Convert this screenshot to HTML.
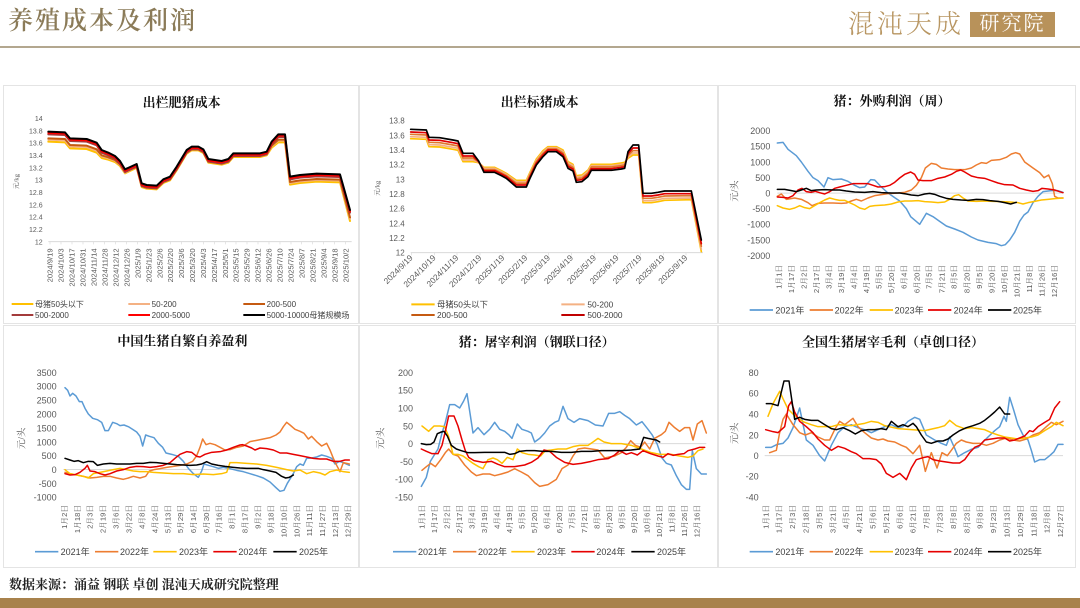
<!DOCTYPE html>
<html><head><meta charset="utf-8">
<style>
*{margin:0;padding:0;box-sizing:border-box}
body{width:1080px;height:608px;position:relative;overflow:hidden;background:#fff;font-family:"Liberation Sans","Noto Sans CJK SC",sans-serif}
.panel{position:absolute;border:1px solid #e4e4e4;background:#fff}
svg{position:absolute;overflow:visible}
svg text{font-family:"Liberation Sans","Noto Sans CJK SC",sans-serif;fill:#595959}
svg .t{font-family:"Liberation Serif","Noto Serif CJK SC",serif;font-weight:700;fill:#111;font-size:39px;text-anchor:middle}
svg .yl{text-anchor:end;font-size:27px}
svg .xl{text-anchor:end;font-size:23px;font-family:"Liberation Sans","Noto Serif CJK SC",serif}
svg .lg{font-size:27px;fill:#404040}
svg .yt{text-anchor:middle;font-size:28px;font-family:"Liberation Serif","Noto Serif CJK SC",serif}
polyline{fill:none;stroke-linejoin:round;stroke-linecap:round}
</style></head><body>

<!-- header -->
<div style="position:absolute;left:8px;top:5px;font-family:'Liberation Serif','Noto Serif CJK SC',serif;font-size:25px;line-height:34px;letter-spacing:2px;color:#8b7b58;font-weight:600">养殖成本及利润</div>
<div style="position:absolute;left:848px;top:9px;font-family:'Liberation Serif','Noto Serif CJK SC',serif;font-size:26px;line-height:32px;letter-spacing:3px;color:#b89662;font-weight:300">混沌天成</div>
<div style="position:absolute;left:970px;top:12px;width:85px;height:25px;background:#b8925a;color:#fff;font-family:'Liberation Serif','Noto Serif CJK SC',serif;font-size:20px;line-height:25px;text-align:center;letter-spacing:2px">研究院</div>
<div style="position:absolute;left:0;top:46px;width:1080px;height:2px;background:#b3a78f"></div>

<!-- panels -->
<div class="panel" style="left:3px;top:85px;width:356px;height:239px"></div>
<div class="panel" style="left:359px;top:85px;width:359px;height:239px"></div>
<div class="panel" style="left:718px;top:85px;width:358px;height:239px"></div>
<div class="panel" style="left:3px;top:325px;width:356px;height:243px"></div>
<div class="panel" style="left:359px;top:325px;width:359px;height:243px"></div>
<div class="panel" style="left:718px;top:325px;width:358px;height:243px"></div>

<!-- Chart 1 -->
<svg style="left:0;top:85px" width="360" height="240" viewBox="0 0 1080 720">
<text class="t" x="545" y="66">出栏肥猪成本</text>
<g class="yl" style="font-size:21px">
<text class="yl" style="font-size:21px" x="128" y="108">14</text>
<text class="yl" style="font-size:21px" x="128" y="145">13.8</text>
<text class="yl" style="font-size:21px" x="128" y="182">13.6</text>
<text class="yl" style="font-size:21px" x="128" y="219">13.4</text>
<text class="yl" style="font-size:21px" x="128" y="256">13.2</text>
<text class="yl" style="font-size:21px" x="128" y="293">13</text>
<text class="yl" style="font-size:21px" x="128" y="330">12.8</text>
<text class="yl" style="font-size:21px" x="128" y="367">12.6</text>
<text class="yl" style="font-size:21px" x="128" y="404">12.4</text>
<text class="yl" style="font-size:21px" x="128" y="441">12.2</text>
<text class="yl" style="font-size:21px" x="128" y="478">12</text>
</g>
<text class="yt" style="font-size:20px" transform="translate(56,290) rotate(-90)">元/kg</text>
<line x1="145" y1="470" x2="1055" y2="470" stroke="#d9d9d9" stroke-width="3"/>
<g stroke="#d9d9d9" stroke-width="2">
<line x1="150" y1="470" x2="150" y2="478"/><line x1="183" y1="470" x2="183" y2="478"/><line x1="216" y1="470" x2="216" y2="478"/><line x1="249" y1="470" x2="249" y2="478"/><line x1="281" y1="470" x2="281" y2="478"/><line x1="314" y1="470" x2="314" y2="478"/><line x1="347" y1="470" x2="347" y2="478"/><line x1="380" y1="470" x2="380" y2="478"/><line x1="413" y1="470" x2="413" y2="478"/><line x1="446" y1="470" x2="446" y2="478"/><line x1="479" y1="470" x2="479" y2="478"/><line x1="511" y1="470" x2="511" y2="478"/><line x1="544" y1="470" x2="544" y2="478"/><line x1="577" y1="470" x2="577" y2="478"/><line x1="610" y1="470" x2="610" y2="478"/><line x1="643" y1="470" x2="643" y2="478"/><line x1="676" y1="470" x2="676" y2="478"/><line x1="708" y1="470" x2="708" y2="478"/><line x1="741" y1="470" x2="741" y2="478"/><line x1="774" y1="470" x2="774" y2="478"/><line x1="807" y1="470" x2="807" y2="478"/><line x1="840" y1="470" x2="840" y2="478"/><line x1="873" y1="470" x2="873" y2="478"/><line x1="905" y1="470" x2="905" y2="478"/><line x1="938" y1="470" x2="938" y2="478"/><line x1="971" y1="470" x2="971" y2="478"/><line x1="1004" y1="470" x2="1004" y2="478"/><line x1="1037" y1="470" x2="1037" y2="478"/>
</g>
<g>
<text class="xl" transform="translate(158,490) rotate(-90)">2024/9/19</text>
<text class="xl" transform="translate(191,490) rotate(-90)">2024/10/3</text>
<text class="xl" transform="translate(224,490) rotate(-90)">2024/10/17</text>
<text class="xl" transform="translate(257,490) rotate(-90)">2024/10/31</text>
<text class="xl" transform="translate(289,490) rotate(-90)">2024/11/14</text>
<text class="xl" transform="translate(322,490) rotate(-90)">2024/11/28</text>
<text class="xl" transform="translate(355,490) rotate(-90)">2024/12/12</text>
<text class="xl" transform="translate(388,490) rotate(-90)">2024/12/26</text>
<text class="xl" transform="translate(421,490) rotate(-90)">2025/1/9</text>
<text class="xl" transform="translate(454,490) rotate(-90)">2025/1/23</text>
<text class="xl" transform="translate(487,490) rotate(-90)">2025/2/6</text>
<text class="xl" transform="translate(519,490) rotate(-90)">2025/2/20</text>
<text class="xl" transform="translate(552,490) rotate(-90)">2025/3/6</text>
<text class="xl" transform="translate(585,490) rotate(-90)">2025/3/20</text>
<text class="xl" transform="translate(618,490) rotate(-90)">2025/4/3</text>
<text class="xl" transform="translate(651,490) rotate(-90)">2025/4/17</text>
<text class="xl" transform="translate(684,490) rotate(-90)">2025/5/1</text>
<text class="xl" transform="translate(716,490) rotate(-90)">2025/5/15</text>
<text class="xl" transform="translate(749,490) rotate(-90)">2025/5/29</text>
<text class="xl" transform="translate(782,490) rotate(-90)">2025/6/12</text>
<text class="xl" transform="translate(815,490) rotate(-90)">2025/6/26</text>
<text class="xl" transform="translate(848,490) rotate(-90)">2025/7/10</text>
<text class="xl" transform="translate(881,490) rotate(-90)">2025/7/24</text>
<text class="xl" transform="translate(913,490) rotate(-90)">2025/8/7</text>
<text class="xl" transform="translate(946,490) rotate(-90)">2025/8/21</text>
<text class="xl" transform="translate(979,490) rotate(-90)">2025/9/4</text>
<text class="xl" transform="translate(1012,490) rotate(-90)">2025/9/18</text>
<text class="xl" transform="translate(1045,490) rotate(-90)">2025/10/2</text>
</g>
<polyline stroke="#ffc000" stroke-width="6" points="145,170 195,172 210,190 260,192 290,203 305,219 325,224 345,231 360,243 375,265 410,248 425,306 440,311 470,313 490,294 510,286 530,256 560,206 575,196 595,196 610,204 625,233 665,239 685,233 700,216 780,216 800,211 815,188 835,172 855,172 870,299 900,294 950,290 1020,292 1050,408"/>
<polyline stroke="#f4b183" stroke-width="6" points="145,164 195,166 210,184 260,186 290,197 305,214 325,220 345,227 360,240 375,263 410,245 425,303 440,308 470,310 490,291 510,283 530,253 560,203 575,193 595,193 610,201 625,230 665,236 685,230 700,213 780,213 800,208 815,184 835,167 855,167 870,294 900,289 950,285 1020,287 1050,401"/>
<polyline stroke="#c55a11" stroke-width="6" points="145,160 195,162 210,180 260,182 290,193 305,211 325,217 345,225 360,238 375,261 410,244 425,302 440,307 470,309 490,290 510,282 530,252 560,202 575,192 595,192 610,200 625,229 665,235 685,229 700,212 780,212 800,207 815,182 835,164 855,164 870,291 900,286 950,282 1020,284 1050,397"/>
<polyline stroke="#a33b3b" stroke-width="6" transform="translate(0,8)" points="145,140 195,142 210,160 260,162 290,173 305,195 325,203 345,213 360,228 375,253 410,237 425,295 440,300 470,302 490,283 510,275 530,245 560,195 575,185 595,185 610,193 625,222 665,228 685,222 700,205 780,205 800,200 815,170 835,148 855,148 870,275 900,270 950,266 1020,268 1050,375"/>
<polyline stroke="#ff0000" stroke-width="6" transform="translate(0,4)" points="145,140 195,142 210,160 260,162 290,173 305,195 325,203 345,213 360,228 375,253 410,237 425,295 440,300 470,302 490,283 510,275 530,245 560,195 575,185 595,185 610,193 625,222 665,228 685,222 700,205 780,205 800,200 815,170 835,148 855,148 870,275 900,270 950,266 1020,268 1050,375"/>
<polyline stroke="#000" stroke-width="6" points="145,140 195,142 210,160 260,162 290,173 305,195 325,203 345,213 360,228 375,253 410,237 425,295 440,300 470,302 490,283 510,275 530,245 560,195 575,185 595,185 610,193 625,222 665,228 685,222 700,205 780,205 800,200 815,170 835,148 855,148 870,275 900,270 950,266 1020,268 1050,375"/>
<g stroke-width="6">
<line x1="35" y1="657" x2="100" y2="657" stroke="#ffc000"/>
<line x1="385" y1="657" x2="450" y2="657" stroke="#f4b183"/>
<line x1="730" y1="657" x2="795" y2="657" stroke="#c55a11"/>
<line x1="35" y1="690" x2="100" y2="690" stroke="#a33b3b"/>
<line x1="385" y1="690" x2="450" y2="690" stroke="#ff0000"/>
<line x1="730" y1="690" x2="795" y2="690" stroke="#000"/>
</g>
<text class="lg" style="font-size:24px" x="105" y="666">母猪50头以下</text>
<text class="lg" style="font-size:24px" x="455" y="666">50-200</text>
<text class="lg" style="font-size:24px" x="800" y="666">200-500</text>
<text class="lg" style="font-size:24px" x="105" y="699">500-2000</text>
<text class="lg" style="font-size:24px" x="455" y="699">2000-5000</text>
<text class="lg" style="font-size:24px" x="800" y="699">5000-10000母猪规模场</text>
</svg>

<!-- Chart 2 -->
<svg style="left:358px;top:85px" width="362" height="240" viewBox="0 0 1086 720">
<text class="t" x="545" y="64">出栏标猪成本</text>
<text class="yl" style="font-size:24px" x="140" y="116">13.8</text>
<text class="yl" style="font-size:24px" x="140" y="160">13.6</text>
<text class="yl" style="font-size:24px" x="140" y="204">13.4</text>
<text class="yl" style="font-size:24px" x="140" y="248">13.2</text>
<text class="yl" style="font-size:24px" x="140" y="292">13</text>
<text class="yl" style="font-size:24px" x="140" y="336">12.8</text>
<text class="yl" style="font-size:24px" x="140" y="380">12.6</text>
<text class="yl" style="font-size:24px" x="140" y="424">12.4</text>
<text class="yl" style="font-size:24px" x="140" y="468">12.2</text>
<text class="yl" style="font-size:24px" x="140" y="512">12</text>
<text class="yt" style="font-size:20px" transform="translate(64,310) rotate(-90)">元/kg</text>
<line x1="158" y1="503" x2="1035" y2="503" stroke="#d9d9d9" stroke-width="3"/>
<g stroke="#d9d9d9" stroke-width="2">
<line x1="160" y1="503" x2="160" y2="511"/><line x1="229" y1="503" x2="229" y2="511"/><line x1="297" y1="503" x2="297" y2="511"/><line x1="366" y1="503" x2="366" y2="511"/><line x1="435" y1="503" x2="435" y2="511"/><line x1="504" y1="503" x2="504" y2="511"/><line x1="572" y1="503" x2="572" y2="511"/><line x1="641" y1="503" x2="641" y2="511"/><line x1="710" y1="503" x2="710" y2="511"/><line x1="778" y1="503" x2="778" y2="511"/><line x1="847" y1="503" x2="847" y2="511"/><line x1="916" y1="503" x2="916" y2="511"/><line x1="984" y1="503" x2="984" y2="511"/>
</g>
<g>
<text class="xl" style="font-size:25px" transform="translate(166,520) rotate(-45)">2024/9/19</text>
<text class="xl" style="font-size:25px" transform="translate(235,520) rotate(-45)">2024/10/19</text>
<text class="xl" style="font-size:25px" transform="translate(303,520) rotate(-45)">2024/11/19</text>
<text class="xl" style="font-size:25px" transform="translate(372,520) rotate(-45)">2024/12/19</text>
<text class="xl" style="font-size:25px" transform="translate(441,520) rotate(-45)">2025/1/19</text>
<text class="xl" style="font-size:25px" transform="translate(510,520) rotate(-45)">2025/2/19</text>
<text class="xl" style="font-size:25px" transform="translate(578,520) rotate(-45)">2025/3/19</text>
<text class="xl" style="font-size:25px" transform="translate(647,520) rotate(-45)">2025/4/19</text>
<text class="xl" style="font-size:25px" transform="translate(716,520) rotate(-45)">2025/5/19</text>
<text class="xl" style="font-size:25px" transform="translate(784,520) rotate(-45)">2025/6/19</text>
<text class="xl" style="font-size:25px" transform="translate(853,520) rotate(-45)">2025/7/19</text>
<text class="xl" style="font-size:25px" transform="translate(922,520) rotate(-45)">2025/8/19</text>
<text class="xl" style="font-size:25px" transform="translate(990,520) rotate(-45)">2025/9/19</text>
</g>
<polyline stroke="#ffc000" stroke-width="5" points="158,161 205,163 213,185 245,186 285,193 300,196 315,230 345,230 362,233 378,247 410,247 430,257 445,265 475,286 505,286 515,264 535,222 555,197 570,185 595,185 615,195 630,230 645,238 655,272 672,270 690,255 700,238 760,238 790,234 800,232 810,220 825,210 842,210 855,353 880,353 900,350 920,346 1000,344 1030,500"/>
<polyline stroke="#f4b183" stroke-width="5" points="158,155 205,157 213,179 245,180 285,187 300,190 315,225 345,225 362,232 378,250 410,250 430,260 445,268 475,290 505,290 515,268 535,226 555,201 570,188 595,188 615,199 630,234 645,242 655,276 672,274 690,259 700,242 760,242 790,238 800,236 810,216 825,204 842,204 855,347 880,347 900,344 920,340 1000,339 1030,493"/>
<polyline stroke="#e0782c" stroke-width="5" points="158,148 205,150 213,172 245,173 285,180 300,183 315,219 345,219 362,231 378,254 410,254 430,264 445,272 475,295 505,295 515,272 535,230 555,205 570,192 595,192 615,204 630,239 645,247 655,281 672,279 690,264 700,246 760,246 790,242 800,240 810,211 825,197 842,197 855,340 880,340 900,337 920,333 1000,332 1030,484"/>
<polyline stroke="#e00000" stroke-width="5" points="158,141 205,143 213,165 245,166 285,173 300,176 315,213 345,213 362,230 378,257 410,257 430,267 445,275 475,300 505,300 515,277 535,235 555,210 570,195 595,195 615,209 630,244 645,252 655,286 672,284 690,269 700,251 760,251 790,247 800,245 810,206 825,189 842,189 855,333 880,333 900,330 920,326 1000,326 1030,476"/>
<polyline stroke="#000" stroke-width="5" points="158,133 205,135 213,157 245,158 285,165 300,168 315,205 345,205 362,228 378,262 410,262 430,272 445,280 475,306 505,306 515,282 535,240 555,215 570,200 595,200 615,215 630,250 645,258 655,292 672,290 690,275 700,256 760,256 790,252 800,250 810,200 825,180 842,180 855,325 880,325 900,322 920,318 1000,318 1030,465"/>
<g stroke-width="6">
<line x1="160" y1="658" x2="230" y2="658" stroke="#ffc000"/>
<line x1="610" y1="658" x2="680" y2="658" stroke="#f4b183"/>
<line x1="160" y1="690" x2="230" y2="690" stroke="#c55a11"/>
<line x1="610" y1="690" x2="680" y2="690" stroke="#c00000"/>
</g>
<text class="lg" style="font-size:25px" x="237" y="667">母猪50头以下</text>
<text class="lg" style="font-size:25px" x="688" y="667">50-200</text>
<text class="lg" style="font-size:25px" x="237" y="699">200-500</text>
<text class="lg" style="font-size:25px" x="688" y="699">500-2000</text>
</svg>

<!-- Chart 3 -->
<svg style="left:718px;top:85px" width="362" height="240" viewBox="0 0 1086 720">
<text class="t" x="522" y="62">猪：外购利润（周）</text>
<text class="yl" x="157" y="147">2000</text>
<text class="yl" x="157" y="194">1500</text>
<text class="yl" x="157" y="241">1000</text>
<text class="yl" x="157" y="288">500</text>
<text class="yl" x="157" y="334">0</text>
<text class="yl" x="157" y="381">-500</text>
<text class="yl" x="157" y="428">-1000</text>
<text class="yl" x="157" y="475">-1500</text>
<text class="yl" x="157" y="522">-2000</text>
<text class="yt" transform="translate(58,318) rotate(-90)">元/头</text>
<line x1="178" y1="324.5" x2="1035" y2="324.5" stroke="#d9d9d9" stroke-width="3"/>
<g>
<text class="xl" transform="translate(190,540) rotate(-90)">1月1日</text>
<text class="xl" transform="translate(228,540) rotate(-90)">1月17日</text>
<text class="xl" transform="translate(265,540) rotate(-90)">2月2日</text>
<text class="xl" transform="translate(303,540) rotate(-90)">2月17日</text>
<text class="xl" transform="translate(340,540) rotate(-90)">3月4日</text>
<text class="xl" transform="translate(378,540) rotate(-90)">3月19日</text>
<text class="xl" transform="translate(416,540) rotate(-90)">4月4日</text>
<text class="xl" transform="translate(453,540) rotate(-90)">4月19日</text>
<text class="xl" transform="translate(491,540) rotate(-90)">5月5日</text>
<text class="xl" transform="translate(528,540) rotate(-90)">5月20日</text>
<text class="xl" transform="translate(566,540) rotate(-90)">6月4日</text>
<text class="xl" transform="translate(604,540) rotate(-90)">6月20日</text>
<text class="xl" transform="translate(641,540) rotate(-90)">7月5日</text>
<text class="xl" transform="translate(679,540) rotate(-90)">7月21日</text>
<text class="xl" transform="translate(716,540) rotate(-90)">8月5日</text>
<text class="xl" transform="translate(754,540) rotate(-90)">8月20日</text>
<text class="xl" transform="translate(792,540) rotate(-90)">9月5日</text>
<text class="xl" transform="translate(829,540) rotate(-90)">9月20日</text>
<text class="xl" transform="translate(867,540) rotate(-90)">10月6日</text>
<text class="xl" transform="translate(904,540) rotate(-90)">10月21日</text>
<text class="xl" transform="translate(942,540) rotate(-90)">11月8日</text>
<text class="xl" transform="translate(980,540) rotate(-90)">11月26日</text>
<text class="xl" transform="translate(1017,540) rotate(-90)">12月16日</text>
</g>
<polyline stroke="#5b9bd5" stroke-width="4.5" points="178,174 195,172 210,193 235,212 250,231 270,259 285,278 300,287 318,306 330,278 345,284 370,282 390,289 410,301 425,308 440,306 458,284 470,285 490,306 510,324 530,338 545,348 565,371 578,395 605,418 625,385 645,395 665,409 685,423 710,432 735,442 760,456 780,465 810,472 835,476 850,482 862,479 875,465 890,442 905,409 918,390 930,381 945,353 960,334 975,320 1000,317 1020,317 1035,322"/>
<polyline stroke="#ed7d31" stroke-width="4.5" points="178,334 190,327 205,343 230,339 250,343 270,353 282,362 300,355 320,354 345,354 370,355 385,354 400,348 415,343 430,348 450,339 470,332 490,329 510,326 540,324 560,322 580,315 595,301 610,278 622,249 640,235 655,238 670,249 690,252 710,254 740,254 760,249 775,240 790,233 805,235 820,226 845,224 865,217 880,207 893,203 905,207 920,231 945,249 965,263 978,278 992,270 1003,296 1010,334 1020,339 1035,339"/>
<polyline stroke="#ffc000" stroke-width="4.5" points="178,362 195,369 215,373 230,369 245,362 260,368 275,371 290,362 305,353 320,345 335,339 350,343 365,346 380,346 395,353 410,360 425,369 440,373 455,364 470,362 500,360 520,357 540,351 560,348 580,348 600,347 620,350 640,351 660,353 680,351 695,343 710,332 722,329 735,339 750,348 775,349 800,348 825,349 850,350 875,351 900,353 915,357 930,353 950,349 970,345 990,343 1010,341 1035,339"/>
<polyline stroke="#e60000" stroke-width="4.5" points="178,336 195,337 210,339 225,332 240,315 252,310 265,320 280,322 292,319 305,323 320,327 335,320 350,310 365,306 385,301 405,296 430,296 450,296 465,301 480,306 500,305 515,301 530,292 545,279 560,268 578,261 590,268 600,285 615,287 640,287 660,280 680,276 700,268 715,259 728,255 740,261 760,273 780,278 800,280 820,287 840,294 860,299 885,300 905,310 925,315 945,319 960,317 972,310 990,312 1010,315 1025,320 1035,323"/>
<polyline stroke="#000" stroke-width="4.5" points="178,313 200,313 220,317 235,320 250,315 265,310 280,317 295,315 320,314 345,315 365,315 385,318 410,321 440,322 465,320 490,323 520,324 545,324 565,327 580,330 600,332 620,327 635,325 650,328 665,334 685,340 705,343 730,345 750,346 775,343 795,344 815,347 840,349 860,353 878,357 895,352"/>
<g stroke-width="5">
<line x1="95" y1="675" x2="165" y2="675" stroke="#5b9bd5"/>
<line x1="275" y1="675" x2="345" y2="675" stroke="#ed7d31"/>
<line x1="455" y1="675" x2="525" y2="675" stroke="#ffc000"/>
<line x1="630" y1="675" x2="700" y2="675" stroke="#e60000"/>
<line x1="810" y1="675" x2="880" y2="675" stroke="#000"/>
</g>
<text class="lg" x="172" y="685">2021年</text>
<text class="lg" x="350" y="685">2022年</text>
<text class="lg" x="530" y="685">2023年</text>
<text class="lg" x="707" y="685">2024年</text>
<text class="lg" x="885" y="685">2025年</text>
</svg>

<!-- Chart 4 -->
<svg style="left:0;top:325px" width="360" height="240" viewBox="0 0 1080 720">
<text class="t" x="547" y="62">中国生猪自繁自养盈利</text>
<text class="yl" x="170" y="153">3500</text>
<text class="yl" x="170" y="194">3000</text>
<text class="yl" x="170" y="236">2500</text>
<text class="yl" x="170" y="278">2000</text>
<text class="yl" x="170" y="319">1500</text>
<text class="yl" x="170" y="361">1000</text>
<text class="yl" x="170" y="402">500</text>
<text class="yl" x="170" y="444">0</text>
<text class="yl" x="170" y="486">-500</text>
<text class="yl" x="170" y="527">-1000</text>
<text class="yt" transform="translate(74,340) rotate(-90)">元/头</text>
<line x1="190" y1="433.6" x2="1048" y2="433.6" stroke="#d9d9d9" stroke-width="3"/>
<g>
<text class="xl" transform="translate(201,540) rotate(-90)">1月2日</text>
<text class="xl" transform="translate(240,540) rotate(-90)">1月18日</text>
<text class="xl" transform="translate(278,540) rotate(-90)">2月3日</text>
<text class="xl" transform="translate(317,540) rotate(-90)">2月19日</text>
<text class="xl" transform="translate(356,540) rotate(-90)">3月6日</text>
<text class="xl" transform="translate(394,540) rotate(-90)">3月22日</text>
<text class="xl" transform="translate(433,540) rotate(-90)">4月8日</text>
<text class="xl" transform="translate(472,540) rotate(-90)">4月24日</text>
<text class="xl" transform="translate(511,540) rotate(-90)">5月13日</text>
<text class="xl" transform="translate(549,540) rotate(-90)">5月29日</text>
<text class="xl" transform="translate(588,540) rotate(-90)">6月14日</text>
<text class="xl" transform="translate(627,540) rotate(-90)">6月30日</text>
<text class="xl" transform="translate(665,540) rotate(-90)">7月16日</text>
<text class="xl" transform="translate(704,540) rotate(-90)">8月1日</text>
<text class="xl" transform="translate(743,540) rotate(-90)">8月17日</text>
<text class="xl" transform="translate(782,540) rotate(-90)">9月2日</text>
<text class="xl" transform="translate(820,540) rotate(-90)">9月18日</text>
<text class="xl" transform="translate(859,540) rotate(-90)">10月10日</text>
<text class="xl" transform="translate(898,540) rotate(-90)">10月26日</text>
<text class="xl" transform="translate(936,540) rotate(-90)">11月11日</text>
<text class="xl" transform="translate(975,540) rotate(-90)">11月27日</text>
<text class="xl" transform="translate(1014,540) rotate(-90)">12月13日</text>
<text class="xl" transform="translate(1052,540) rotate(-90)">12月29日</text>
</g>
<polyline stroke="#5b9bd5" stroke-width="4.5" points="195,188 203,196 210,213 218,205 228,213 238,230 246,230 255,250 265,267 278,280 292,284 305,292 315,317 325,317 338,292 350,296 360,302 372,300 385,305 398,313 410,321 420,334 428,363 437,330 448,334 462,338 475,355 488,367 498,384 515,388 535,394 550,409 565,430 580,446 595,457 605,438 612,417 625,421 640,425 655,430 670,427 690,431 710,436 730,440 750,446 770,452 790,459 810,471 828,488 840,499 852,496 862,475 872,459 882,442 890,425 900,417 910,421 920,400 935,399 950,396 965,390 980,394 995,400 1005,417 1018,409 1030,413 1048,421"/>
<polyline stroke="#ed7d31" stroke-width="4.5" points="195,442 210,446 230,450 250,454 270,459 290,457 310,454 330,454 350,459 370,463 385,459 400,454 420,459 437,454 448,438 462,434 480,431 500,427 520,424 540,421 560,417 578,409 590,392 600,367 608,342 618,359 630,355 645,359 660,367 675,375 690,374 710,367 730,363 750,350 770,346 790,342 810,338 828,330 840,321 850,305 860,292 870,300 885,313 900,319 912,325 925,342 935,334 950,350 965,363 980,355 990,375 1000,400 1010,421 1020,440 1030,413 1048,417"/>
<polyline stroke="#ffc000" stroke-width="4.5" points="195,434 210,446 230,450 250,454 265,459 280,446 300,442 320,438 340,434 360,430 380,434 400,438 420,440 440,440 460,442 490,444 520,446 550,446 580,449 610,447 640,449 665,446 680,442 690,413 710,413 740,415 770,417 800,421 830,427 860,434 880,438 900,435 920,446 940,440 960,444 975,450 990,440 1010,435 1030,440 1048,442"/>
<polyline stroke="#e60000" stroke-width="4.5" points="195,446 210,450 225,449 240,442 255,430 262,421 270,438 285,440 300,446 315,450 330,446 350,438 370,434 390,427 410,424 430,425 450,427 470,425 490,421 510,413 525,400 540,388 560,380 575,382 590,394 600,396 615,388 635,382 660,380 680,375 700,367 720,360 728,359 740,363 755,369 765,375 780,369 800,371 820,375 840,384 860,384 880,388 900,392 920,396 940,400 960,402 980,402 1000,409 1020,409 1035,405 1048,405"/>
<polyline stroke="#000" stroke-width="4.5" points="195,400 210,405 222,409 235,407 250,413 265,409 280,410 292,421 310,417 330,415 350,417 370,417 390,417 410,415 430,415 450,412 470,413 490,415 510,417 530,419 550,420 570,421 590,420 605,417 620,410 635,417 655,421 675,424 700,427 720,429 740,430 760,430 775,430 790,434 810,438 828,442 845,454 857,459 868,457 880,450"/>
<g stroke-width="5">
<line x1="105" y1="680" x2="175" y2="680" stroke="#5b9bd5"/>
<line x1="285" y1="680" x2="355" y2="680" stroke="#ed7d31"/>
<line x1="460" y1="680" x2="530" y2="680" stroke="#ffc000"/>
<line x1="640" y1="680" x2="710" y2="680" stroke="#e60000"/>
<line x1="820" y1="680" x2="890" y2="680" stroke="#000"/>
</g>
<text class="lg" x="182" y="690">2021年</text>
<text class="lg" x="360" y="690">2022年</text>
<text class="lg" x="537" y="690">2023年</text>
<text class="lg" x="715" y="690">2024年</text>
<text class="lg" x="897" y="690">2025年</text>
</svg>

<!-- Chart 5 -->
<svg style="left:358px;top:325px" width="362" height="240" viewBox="0 0 1086 720">
<text class="t" x="536" y="64">猪：屠宰利润（钢联口径）</text>
<text class="yl" x="165" y="153">200</text>
<text class="yl" x="165" y="206">150</text>
<text class="yl" x="165" y="259">100</text>
<text class="yl" x="165" y="313">50</text>
<text class="yl" x="165" y="366">0</text>
<text class="yl" x="165" y="420">-50</text>
<text class="yl" x="165" y="473">-100</text>
<text class="yl" x="165" y="527">-150</text>
<text class="yt" transform="translate(76,340) rotate(-90)">元/头</text>
<line x1="188" y1="356" x2="1045" y2="356" stroke="#d9d9d9" stroke-width="3"/>
<g>
<text class="xl" transform="translate(200,540) rotate(-90)">1月1日</text>
<text class="xl" transform="translate(237,540) rotate(-90)">1月17日</text>
<text class="xl" transform="translate(275,540) rotate(-90)">2月2日</text>
<text class="xl" transform="translate(312,540) rotate(-90)">2月17日</text>
<text class="xl" transform="translate(350,540) rotate(-90)">3月4日</text>
<text class="xl" transform="translate(387,540) rotate(-90)">3月19日</text>
<text class="xl" transform="translate(425,540) rotate(-90)">4月4日</text>
<text class="xl" transform="translate(462,540) rotate(-90)">4月19日</text>
<text class="xl" transform="translate(500,540) rotate(-90)">5月5日</text>
<text class="xl" transform="translate(537,540) rotate(-90)">5月20日</text>
<text class="xl" transform="translate(575,540) rotate(-90)">6月4日</text>
<text class="xl" transform="translate(612,540) rotate(-90)">6月20日</text>
<text class="xl" transform="translate(650,540) rotate(-90)">7月5日</text>
<text class="xl" transform="translate(687,540) rotate(-90)">7月21日</text>
<text class="xl" transform="translate(725,540) rotate(-90)">8月5日</text>
<text class="xl" transform="translate(762,540) rotate(-90)">8月20日</text>
<text class="xl" transform="translate(800,540) rotate(-90)">9月5日</text>
<text class="xl" transform="translate(837,540) rotate(-90)">9月20日</text>
<text class="xl" transform="translate(875,540) rotate(-90)">10月6日</text>
<text class="xl" transform="translate(912,540) rotate(-90)">10月21日</text>
<text class="xl" transform="translate(950,540) rotate(-90)">11月8日</text>
<text class="xl" transform="translate(987,540) rotate(-90)">11月26日</text>
<text class="xl" transform="translate(1025,540) rotate(-90)">12月16日</text>
</g>
<polyline stroke="#5b9bd5" stroke-width="4.5" points="190,484 205,457 217,409 230,388 240,372 252,324 262,292 275,239 290,239 305,249 317,228 327,206 337,271 345,324 360,308 378,329 395,313 410,292 425,313 440,319 452,329 462,340 478,297 492,313 510,319 520,324 530,351 545,340 560,324 575,303 590,292 602,287 615,244 630,281 648,292 665,281 690,287 712,300 735,303 752,265 770,265 785,260 800,271 815,281 835,300 852,290 870,313 882,329 897,356 912,399 925,415 940,420 955,452 970,479 985,493 995,493 1003,377 1015,431 1030,447 1045,447"/>
<polyline stroke="#ed7d31" stroke-width="4.5" points="192,436 205,425 218,415 232,425 248,404 262,383 272,372 285,388 300,393 320,420 340,441 355,452 375,447 395,447 410,452 430,447 450,441 470,431 490,441 510,452 530,473 545,484 570,479 595,463 612,431 630,420 645,393 660,372 680,369 700,372 720,375 740,399 770,393 790,383 805,367 818,347 832,361 848,367 860,351 875,372 890,340 910,329 922,319 933,292 950,308 965,319 980,308 995,308 1005,345 1018,297 1032,287 1045,324"/>
<polyline stroke="#ffc000" stroke-width="4.5" points="192,303 212,319 228,303 245,303 260,305 272,335 285,388 300,388 315,393 330,404 345,415 362,425 375,431 390,404 405,399 418,404 432,415 448,397 465,404 478,372 492,383 510,388 530,390 548,393 562,377 580,375 600,372 625,372 645,365 665,361 690,361 705,351 720,340 738,351 760,356 790,356 820,361 850,372 880,383 905,388 940,388 965,393 990,397 1005,393 1020,377 1035,372"/>
<polyline stroke="#e60000" stroke-width="4.5" points="190,372 205,379 222,386 240,386 252,361 262,319 272,273 288,273 300,303 312,345 322,377 332,397 348,407 375,412 400,409 420,418 440,425 470,425 500,420 520,412 540,399 558,375 575,379 595,397 620,412 645,418 670,415 700,409 720,404 750,401 770,390 785,377 805,388 820,383 838,390 855,377 878,386 900,393 915,397 930,386 945,391 960,388 978,386 990,377 1010,372 1025,367 1040,367"/>
<polyline stroke="#000" stroke-width="4.5" points="190,356 205,359 218,358 228,351 238,326 250,321 258,319 268,333 280,361 295,372 310,377 330,383 350,383 380,382 410,382 440,382 455,388 470,386 485,379 505,377 530,377 555,379 580,379 610,382 640,382 670,379 700,379 730,377 760,377 790,377 820,375 845,372 857,337 870,340 885,343 895,345 905,351"/>
<g stroke-width="5">
<line x1="105" y1="680" x2="175" y2="680" stroke="#5b9bd5"/>
<line x1="285" y1="680" x2="355" y2="680" stroke="#ed7d31"/>
<line x1="460" y1="680" x2="530" y2="680" stroke="#ffc000"/>
<line x1="640" y1="680" x2="710" y2="680" stroke="#e60000"/>
<line x1="820" y1="680" x2="890" y2="680" stroke="#000"/>
</g>
<text class="lg" x="180" y="690">2021年</text>
<text class="lg" x="360" y="690">2022年</text>
<text class="lg" x="537" y="690">2023年</text>
<text class="lg" x="715" y="690">2024年</text>
<text class="lg" x="897" y="690">2025年</text>
</svg>

<!-- Chart 6 -->
<svg style="left:718px;top:325px" width="362" height="240" viewBox="0 0 1086 720">
<text class="t" x="525" y="64">全国生猪屠宰毛利（卓创口径）</text>
<text class="yl" x="122" y="153">80</text>
<text class="yl" x="122" y="215">60</text>
<text class="yl" x="122" y="277">40</text>
<text class="yl" x="122" y="340">20</text>
<text class="yl" x="122" y="402">0</text>
<text class="yl" x="122" y="464">-20</text>
<text class="yl" x="122" y="527">-40</text>
<text class="yt" transform="translate(58,325) rotate(-90)">元/头</text>
<line x1="140" y1="392" x2="1035" y2="392" stroke="#d9d9d9" stroke-width="3"/>
<g>
<text class="xl" transform="translate(151,540) rotate(-90)">1月1日</text>
<text class="xl" transform="translate(191,540) rotate(-90)">1月17日</text>
<text class="xl" transform="translate(231,540) rotate(-90)">2月3日</text>
<text class="xl" transform="translate(272,540) rotate(-90)">2月18日</text>
<text class="xl" transform="translate(312,540) rotate(-90)">3月5日</text>
<text class="xl" transform="translate(352,540) rotate(-90)">3月21日</text>
<text class="xl" transform="translate(392,540) rotate(-90)">4月5日</text>
<text class="xl" transform="translate(432,540) rotate(-90)">4月21日</text>
<text class="xl" transform="translate(473,540) rotate(-90)">5月6日</text>
<text class="xl" transform="translate(513,540) rotate(-90)">5月21日</text>
<text class="xl" transform="translate(553,540) rotate(-90)">6月6日</text>
<text class="xl" transform="translate(593,540) rotate(-90)">6月21日</text>
<text class="xl" transform="translate(633,540) rotate(-90)">7月8日</text>
<text class="xl" transform="translate(674,540) rotate(-90)">7月23日</text>
<text class="xl" transform="translate(714,540) rotate(-90)">8月8日</text>
<text class="xl" transform="translate(754,540) rotate(-90)">8月23日</text>
<text class="xl" transform="translate(794,540) rotate(-90)">9月8日</text>
<text class="xl" transform="translate(834,540) rotate(-90)">9月23日</text>
<text class="xl" transform="translate(875,540) rotate(-90)">10月13日</text>
<text class="xl" transform="translate(915,540) rotate(-90)">10月29日</text>
<text class="xl" transform="translate(955,540) rotate(-90)">11月18日</text>
<text class="xl" transform="translate(995,540) rotate(-90)">12月8日</text>
<text class="xl" transform="translate(1035,540) rotate(-90)">12月27日</text>
</g>
<polyline stroke="#5b9bd5" stroke-width="4.5" points="143,367 160,367 178,358 195,355 210,339 225,308 245,249 252,283 265,345 285,361 305,392 320,408 340,361 360,323 380,305 400,299 420,308 440,314 460,323 480,314 500,305 520,299 540,308 555,305 570,289 590,277 605,283 625,330 650,345 670,355 685,361 695,336 710,370 720,395 740,383 760,373 780,367 795,351 810,336 830,317 845,305 858,274 865,289 875,217 887,255 900,299 915,330 930,345 940,376 950,411 965,404 980,404 995,392 1008,380 1020,358 1035,358"/>
<polyline stroke="#ed7d31" stroke-width="4.5" points="155,383 175,376 185,323 195,283 205,267 225,299 245,323 262,330 280,323 300,336 320,345 335,345 350,314 365,289 380,299 405,280 420,305 440,323 460,339 480,345 495,342 510,348 530,351 550,361 565,367 585,386 605,361 622,439 640,383 657,429 672,383 688,392 700,376 715,355 730,345 745,351 765,355 785,355 805,361 825,355 845,345 865,339 885,345 905,348 925,342 945,330 965,323 985,305 1000,292 1015,299 1035,289"/>
<polyline stroke="#ffc000" stroke-width="4.5" points="150,274 165,236 185,199 195,221 210,252 225,267 245,283 260,292 280,299 300,305 340,305 360,299 400,302 440,295 460,289 480,292 500,302 540,311 580,314 620,317 660,308 680,302 695,286 715,302 740,311 760,308 800,314 820,323 840,330 860,336 880,339 900,342 920,339 940,336 960,330 980,317 1000,305 1015,292 1035,302"/>
<polyline stroke="#e60000" stroke-width="4.5" points="143,314 165,320 180,323 200,305 212,242 220,230 230,261 245,289 265,305 285,323 300,342 320,361 340,376 360,364 380,370 400,380 415,386 435,401 455,401 475,404 490,417 505,445 525,457 545,445 565,464 580,429 595,404 615,398 630,395 645,404 665,408 685,411 705,414 725,414 740,404 755,383 770,367 785,361 800,345 820,342 840,339 860,339 875,348 890,345 905,339 920,333 935,317 945,320 960,305 980,292 995,283 1010,249 1025,230"/>
<polyline stroke="#000" stroke-width="4.5" points="145,236 160,236 180,242 198,168 213,168 230,283 245,277 260,283 280,286 300,286 320,299 340,311 355,314 375,308 395,317 412,327 430,317 450,314 470,314 490,311 505,314 520,289 540,305 555,299 570,305 585,295 595,305 610,330 625,351 640,355 660,348 675,348 690,342 705,330 725,317 745,308 765,302 785,295 800,286 815,274 830,261 845,246 860,267 875,267"/>
<g stroke-width="5">
<line x1="95" y1="680" x2="165" y2="680" stroke="#5b9bd5"/>
<line x1="275" y1="680" x2="345" y2="680" stroke="#ed7d31"/>
<line x1="455" y1="680" x2="525" y2="680" stroke="#ffc000"/>
<line x1="630" y1="680" x2="700" y2="680" stroke="#e60000"/>
<line x1="810" y1="680" x2="880" y2="680" stroke="#000"/>
</g>
<text class="lg" x="172" y="690">2021年</text>
<text class="lg" x="350" y="690">2022年</text>
<text class="lg" x="530" y="690">2023年</text>
<text class="lg" x="707" y="690">2024年</text>
<text class="lg" x="885" y="690">2025年</text>
</svg>

<!-- footer -->
<div style="position:absolute;left:9px;top:576px;font-family:'Liberation Serif','Noto Serif CJK SC',serif;font-size:13px;line-height:18px;font-weight:700;color:#222;white-space:pre">数据来源：涌益 钢联 卓创 混沌天成研究院整理</div>
<div style="position:absolute;left:0;top:598px;width:1080px;height:10px;background:#a8824c"></div>
</body></html>
